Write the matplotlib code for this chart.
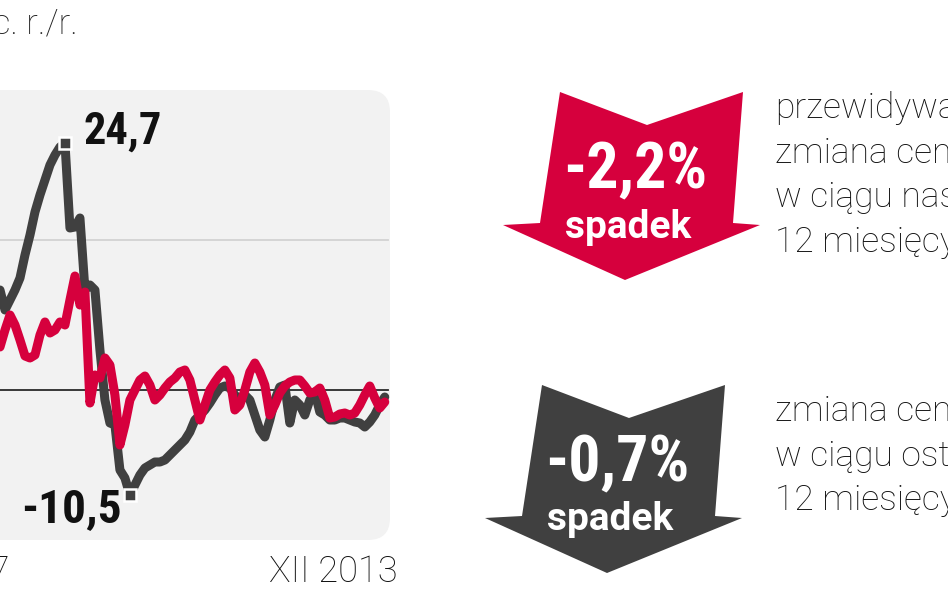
import numpy as np
import matplotlib
matplotlib.use('Agg')
import matplotlib.pyplot as plt
from matplotlib.patches import FancyBboxPatch, Polygon
from matplotlib import font_manager as fm

# ─── DANE (zmiana r./r., %) ───────────────────────────────────────────────────
ceny_ostatnie = [10.0, 8.0, 9.0, 10.0, 11.2, 13.5, 15.5, 17.8, 19.5, 21.0,
                 22.5, 23.5, 24.3, 24.7, 16.2, 16.3, 17.2, 10.0, 10.5, 10.0,
                 4.0, -1.0, -3.3, -3.5, -8.0, -8.8, -10.5, -9.5, -8.5, -7.8,
                 -7.5, -7.2, -7.2, -7.0, -6.5, -6.0, -5.5, -5.0, -4.2, -3.0,
                 -2.5, -2.0, -1.3, -0.5, 0.2, 0.4, 0.2, -0.5, -1.0, -0.5,
                 -1.0, -2.5, -4.0, -4.7, -3.0, -1.0, 0.3, 0.5, -3.3, -1.0,
                 -1.5, -2.5, -1.0, -0.2, -2.2, -2.5, -3.0, -3.0, -2.8, -2.8,
                 -3.0, -3.2, -3.3, -3.7, -3.2, -2.5, -1.5, -0.7]
ceny_prognoza = [4.3, 6.0, 7.5, 6.5, 5.0, 3.4, 3.2, 3.5, 5.5, 6.8,
                 5.7, 6.0, 6.8, 6.5, 9.0, 11.4, 8.5, 9.8, -1.3, 1.5,
                 1.2, 3.2, 2.5, -0.5, -5.5, -3.5, -1.0, 0.0, 1.0, 1.4,
                 0.5, -1.0, -0.5, 0.2, 0.8, 1.2, 1.8, 2.0, 1.0, -1.0,
                 -3.0, -1.5, 0.0, 0.8, 1.5, 2.0, 1.2, -2.0, -1.5, 0.0,
                 1.8, 2.7, 1.8, 0.5, -2.5, -1.5, -0.3, 0.4, 0.8, 1.0,
                 1.0, 0.4, -0.3, -0.2, 0.2, -1.0, -2.8, -2.7, -2.4, -2.3,
                 -2.5, -2.3, -1.5, -0.5, 0.4, -0.8, -1.8, -1.2]
etykiety_osi = ['I 2007', 'XII 2013']
wartosci_strzalek = ['-2,2%', '-0,7%']
opisy_strzalek = ['przewidywana\nzmiana cen\nw ciągu następnych\n12 miesięcy',
                  'zmiana cen\nw ciągu ostatnich\n12 miesięcy']

# ─── STYL ─────────────────────────────────────────────────────────────────────
CZERWONY = '#d6003d'
GRAFIT = '#404040'
TLO = '#f2f2f2'

nazwy = {f.name for f in fm.fontManager.ttflist}
WASKA = ['Roboto', 'DejaVu Sans']
for kandydat in ['Roboto Condensed', 'Liberation Sans Narrow', 'Open Sans Condensed']:
    if kandydat in nazwy:
        WASKA = [kandydat, 'DejaVu Sans']
        break
LEKKA = ['Roboto', 'DejaVu Sans']

W, H = 948, 593
fig = plt.figure(figsize=(W / 100, H / 100), dpi=100)
fig.patch.set_facecolor('white')

# warstwa tła w pikselach
tlo = fig.add_axes([0, 0, 1, 1])
tlo.set_xlim(0, W)
tlo.set_ylim(H, 0)
tlo.axis('off')

panel = FancyBboxPatch((-30, 90), 420, 450, boxstyle='round,pad=0,rounding_size=22',
                       facecolor=TLO, edgecolor='none')
tlo.add_patch(panel)

# ─── WYKRES ───────────────────────────────────────────────────────────────────
n = len(ceny_ostatnie)
x = np.arange(n)
# piksele 0..390 w poziomie, 90..540 w pionie
ax = fig.add_axes([0 / W, 1 - 540 / H, 390 / W, 450 / H])
ax.set_facecolor('none')
ax.set_xlim(0, n + 0.05)
ax.set_ylim(-15, 30)
ax.axis('off')

ax.axhline(15, xmin=0, xmax=0.995, color='#d2d2d2', lw=1.3, zorder=1)
ax.axhline(0, xmin=0, xmax=0.995, color='#2a2a2a', lw=1.3, zorder=1)

ax.plot(x, ceny_ostatnie, color=GRAFIT, lw=6.5, solid_joinstyle='round',
        solid_capstyle='round', zorder=2)
ax.plot(x, ceny_prognoza, color=CZERWONY, lw=6.5, solid_joinstyle='round',
        solid_capstyle='round', zorder=3)

i_max = int(np.argmax(ceny_ostatnie))
i_min = int(np.argmin(ceny_ostatnie))
for i in (i_max, i_min):
    ax.plot(x[i], ceny_ostatnie[i], 's', ms=8, mfc=GRAFIT, mec='white',
            mew=1.8, zorder=4)

ax.annotate(f"{ceny_ostatnie[i_max]:.1f}".replace('.', ','),
            xy=(x[i_max], ceny_ostatnie[i_max]), xytext=(13, 8),
            textcoords='offset points', ha='left', va='center',
            fontsize=32, fontweight='bold', family=WASKA, color='#111111')
ax.annotate(f"{ceny_ostatnie[i_min]:.1f}".replace('.', ','),
            xy=(x[i_min], ceny_ostatnie[i_min]), xytext=(-6, -10),
            textcoords='offset points', ha='right', va='center',
            fontsize=34, fontweight='bold', family=WASKA, color='#111111')

# ─── TEKSTY ───────────────────────────────────────────────────────────────────
tlo.text(78, 24, 'proc. r./r.', ha='right', va='center', fontsize=25,
         family=LEKKA, weight='light', color='#222222')
tlo.text(10, 572, etykiety_osi[0], ha='right', va='center', fontsize=26,
         family=LEKKA, weight='light', color='#111111')
tlo.text(398, 572, etykiety_osi[1], ha='right', va='center', fontsize=26,
         family=LEKKA, weight='light', color='#111111')

# ─── STRZAŁKI ─────────────────────────────────────────────────────────────────
ksztalt = np.array([(560, 92), (647, 125), (743, 92), (733, 223), (760, 225),
                    (625, 280), (503, 225), (540, 223)], dtype=float)
przesuniecia = [(0, 0), (-18, 293)]
kolory = [CZERWONY, GRAFIT]
pozycje_opisu = [(775, 175), (775, 456)]

for wart, opis, (dx, dy), kol, (tx, ty) in zip(wartosci_strzalek, opisy_strzalek,
                                                przesuniecia, kolory, pozycje_opisu):
    tlo.add_patch(Polygon(ksztalt + [dx, dy], closed=True, facecolor=kol,
                          edgecolor='none'))
    tlo.text(635 + dx, 171 + dy, wart, ha='center', va='center', fontsize=46,
             fontweight='bold', family=WASKA, color='white')
    tlo.text(628 + dx, 227 + dy, 'spadek', ha='center', va='center', fontsize=28,
             fontweight='bold', family=['Roboto', 'DejaVu Sans'], color='white')
    tlo.text(tx, ty, opis, ha='left', va='center', fontsize=25.5,
             family=LEKKA, weight='light', color='#111111', linespacing=1.42)

plt.savefig('out.png', dpi=100)
plt.close()
